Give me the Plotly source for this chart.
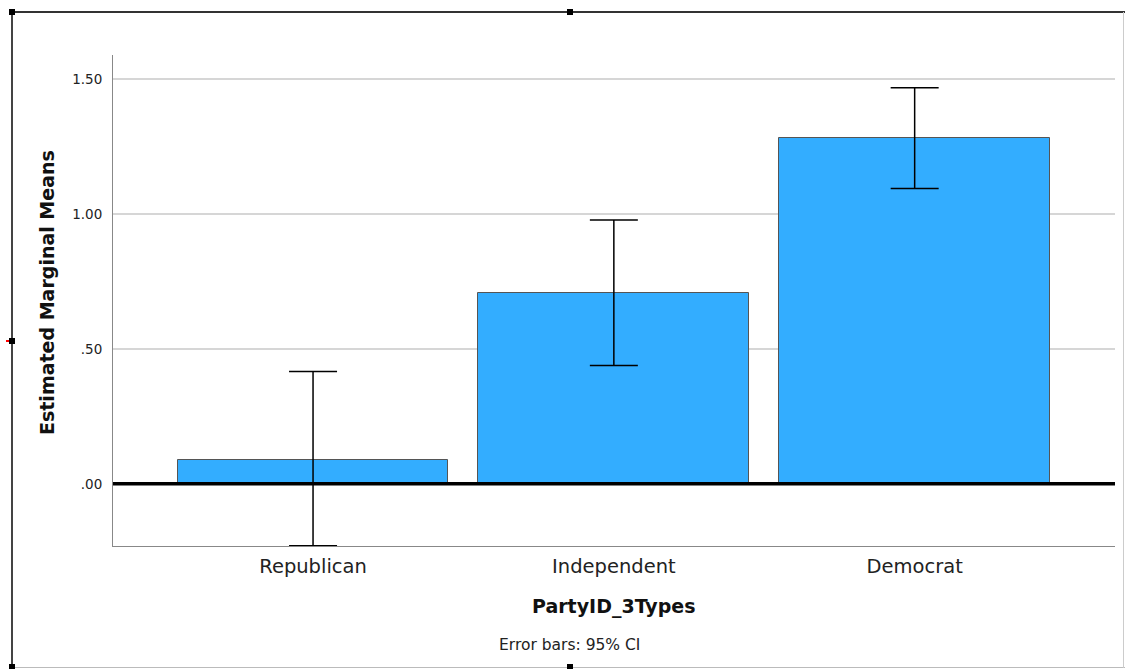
import plotly.graph_objects as go

categories = ["Republican", "Independent", "Democrat"]
means = [0.090, 0.708, 1.281]
ci_upper = [0.416, 0.978, 1.468]
ci_lower = [-0.230, 0.438, 1.094]
y_ticks = [0.0, 0.5, 1.0, 1.5]
y_tick_labels = [".00", ".50", "1.00", "1.50"]

W, H = 1125, 669
L, R, T, B = 113, 1115, 55, 546  # plot area pixel bounds


def px(x):
    return (x - L) / (R - L)


def py(y):
    return (B - y) / (B - T)


fig = go.Figure()
fig.add_trace(go.Bar(
    x=categories, y=means, width=0.9,
    marker=dict(color="#33ADFF", line=dict(color="#555555", width=1)),
    error_y=dict(type="data", symmetric=False,
                 array=[u - m for u, m in zip(ci_upper, means)],
                 arrayminus=[m - l for m, l in zip(means, ci_lower)],
                 color="black", thickness=1.5, width=24),
    showlegend=False,
))

FONT = "DejaVu Sans"
shapes = []
# zero line
shapes.append(dict(type="line", xref="paper", yref="y", x0=0, x1=1, y0=0, y1=0,
                   line=dict(color="black", width=3.5), layer="above"))
# outer frame
shapes.append(dict(type="line", xref="paper", yref="paper", x0=px(12), x1=px(1125), y0=py(12), y1=py(12),
                   line=dict(color="#333", width=2)))
shapes.append(dict(type="line", xref="paper", yref="paper", x0=px(12), x1=px(12), y0=py(12), y1=py(668),
                   line=dict(color="#444", width=2)))
shapes.append(dict(type="line", xref="paper", yref="paper", x0=px(12), x1=px(1125), y0=py(667.5), y1=py(667.5),
                   line=dict(color="#bbb", width=1)))
shapes.append(dict(type="line", xref="paper", yref="paper", x0=px(1123.5), x1=px(1123.5), y0=py(12), y1=py(668),
                   line=dict(color="#ccc", width=1)))
# handles
for hx, hy in [(12, 12), (570, 12), (12, 341), (12, 667), (570, 667)]:
    shapes.append(dict(type="rect", xref="paper", yref="paper",
                       x0=px(hx - 3), x1=px(hx + 3), y0=py(hy - 3), y1=py(hy + 3),
                       fillcolor="black", line=dict(width=0)))
shapes.append(dict(type="line", xref="paper", yref="paper", x0=px(6), x1=px(9), y0=py(341), y1=py(341),
                   line=dict(color="red", width=2)))

annotations = [
    dict(text="<b>Estimated Marginal Means</b>", xref="paper", yref="paper",
         x=px(47), y=py(293), textangle=-90, showarrow=False,
         font=dict(family=FONT, size=19, color="#111"), xanchor="center", yanchor="middle"),
    dict(text="<b>PartyID_3Types</b>", xref="paper", yref="paper",
         x=px(614), y=py(606), showarrow=False,
         font=dict(family=FONT, size=19, color="#111"), xanchor="center", yanchor="middle"),
    dict(text="Error bars: 95% CI", xref="paper", yref="paper",
         x=px(569), y=py(645), showarrow=False,
         font=dict(family=FONT, size=15.5, color="#222"), xanchor="center", yanchor="middle"),
]

fig.update_layout(
    width=W, height=H,
    margin=dict(l=L, r=W - R, t=T, b=H - B, pad=0),
    paper_bgcolor="white", plot_bgcolor="white",
    bargap=0,
    shapes=shapes, annotations=annotations,
    xaxis=dict(range=[-0.665, 2.666], showgrid=False, showline=True, linecolor="#888", linewidth=1,
               ticks="", tickfont=dict(family=FONT, size=19.5, color="#222"), mirror=False,
               ticklabelstandoff=3),
    yaxis=dict(range=[-0.2305, 1.589], tickvals=y_ticks, ticktext=y_tick_labels,
               showgrid=True, gridcolor="#d6d6d6", gridwidth=1.5, zeroline=False,
               showline=True, linecolor="#888", linewidth=1, ticks="",
               tickfont=dict(family=FONT, size=13.5, color="#222"), ticklabelstandoff=7),
)

fig.write_html("out.html", config={"displayModeBar": False},
               post_script="document.body.style.margin='0';")
